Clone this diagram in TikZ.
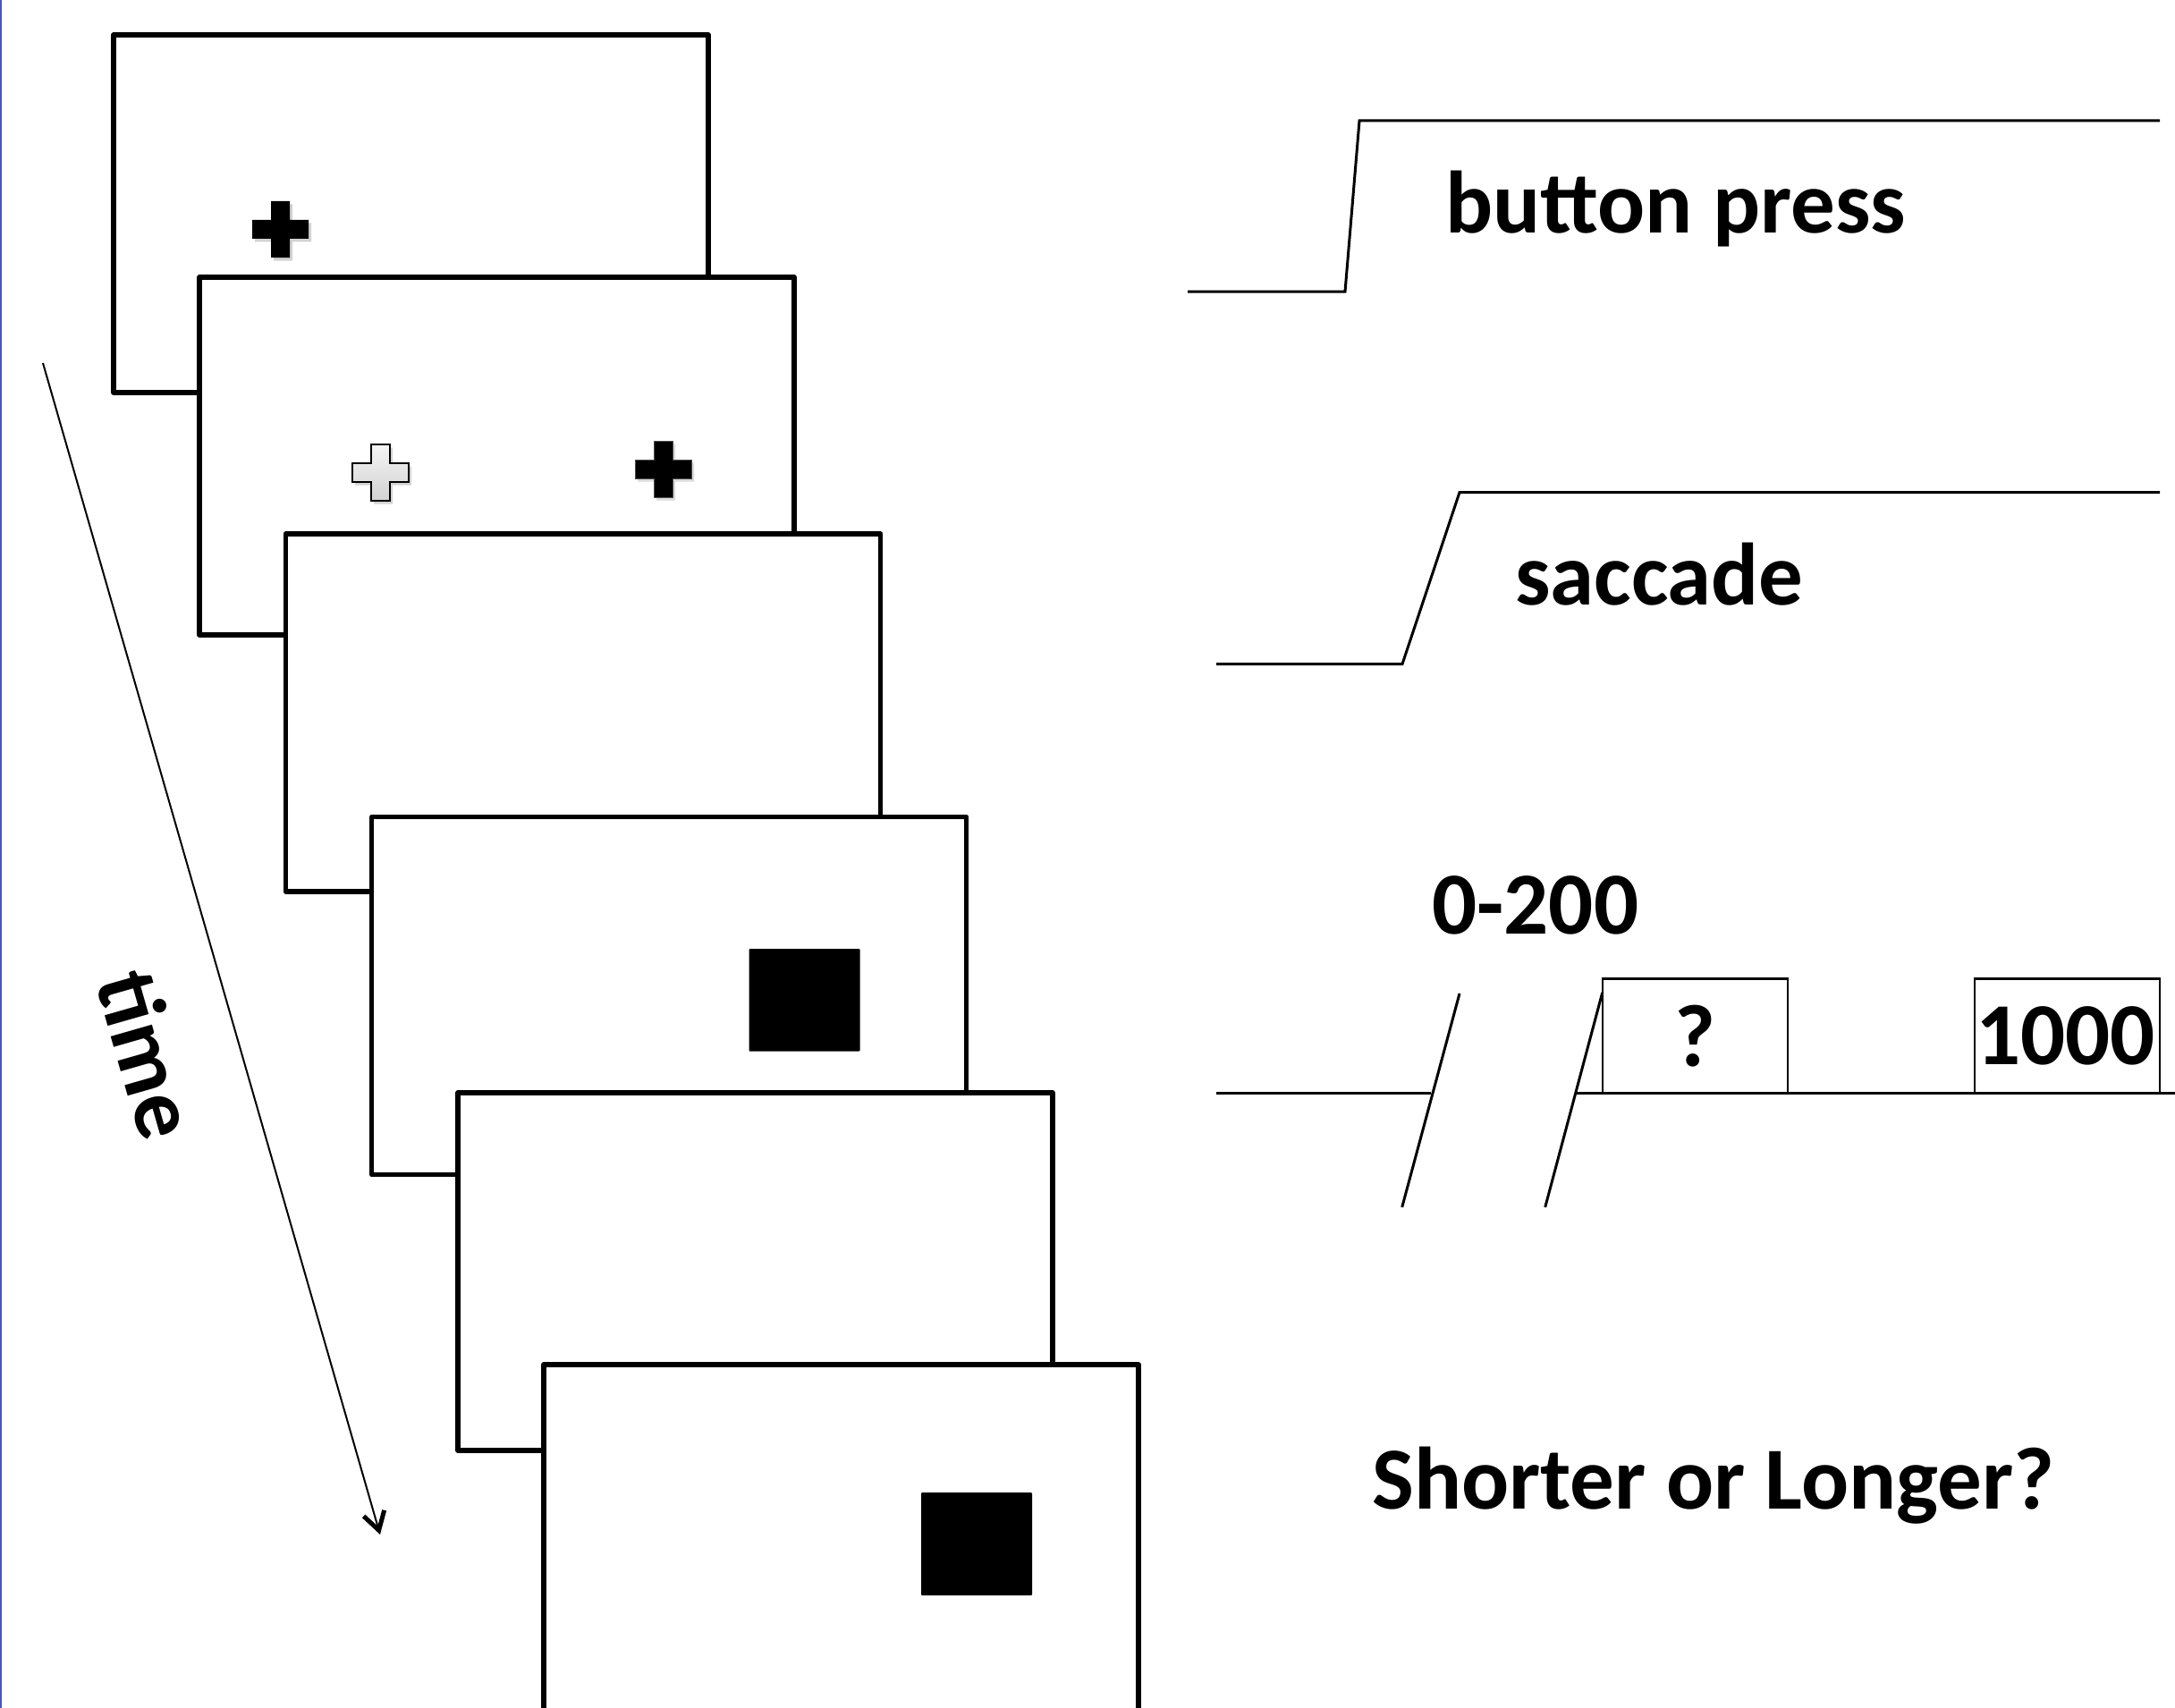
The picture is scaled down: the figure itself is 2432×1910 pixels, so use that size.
\documentclass[tikz,border=0pt]{standalone}
\usepackage{fontspec}
\setmainfont{Carlito}
\usetikzlibrary{arrows.meta}
\definecolor{edgeblue}{RGB}{70,84,196}
\tikzset{
  frame/.style={draw=black, fill=white, line width=5.5pt, line join=round, minimum width=665pt, minimum height=400pt, inner sep=0pt, outer sep=0pt, anchor=north west},
  trace/.style={line width=3pt, line join=miter},
  lbl/.style={font=\bfseries\fontsize{99}{110}\selectfont, inner sep=0pt},
  tbox/.style={draw=black, line width=2.5pt, minimum width=207pt, minimum height=128pt, inner sep=0pt, outer sep=0pt, anchor=south west},
  pics/plus/.style={code={\path[pic actions] (-10.5,-31.5) -- (10.5,-31.5) -- (10.5,-10.5) -- (31.5,-10.5) -- (31.5,10.5) -- (10.5,10.5) -- (10.5,31.5) -- (-10.5,31.5) -- (-10.5,10.5) -- (-31.5,10.5) -- (-31.5,-10.5) -- (-10.5,-10.5) -- cycle;}}
}
\begin{document}
\begin{tikzpicture}[x=1pt,y=-1pt]
\useasboundingbox (0,0) rectangle (2432,1910);
\clip (0,0) rectangle (2432,1910);
\fill[white] (0,0) rectangle (2432,1910);
\draw[edgeblue, line width=1.6pt] (0.8,0) -- (0.8,1910);
% time arrow
\coordinate (ta) at (48,406);
\coordinate (tb) at (425,1716);
\draw[line width=2pt, -{Straight Barb[length=20pt, width=24pt, line width=5pt]}] (ta) -- (tb);
\node[lbl, rotate=-74] (time) at (166,1179) {time};
% frames
\node[frame] (f1) at (127,39) {};
\pic[fill=black!35, opacity=0.5] at (316.5,260) {plus};
\pic[fill=black] at (313.5,256.5) {plus};
\node[frame] (f2) at (223,310) {};
\pic[fill=black!35, opacity=0.5] at (428.5,532) {plus};
\pic[draw=black, line width=2pt, top color=gray!8, bottom color=gray!35] at (425.5,528) {plus};
\pic[fill=black!35, opacity=0.4] at (744.5,528) {plus};
\pic[fill=black, draw=black!70, line width=0.8pt] at (742,525) {plus};
\node[frame] (f3) at (319.5,597) {};
\node[frame] (f4) at (415.7,913.5) {};
\fill[black, rounded corners=1pt] (837.5,1061) rectangle (961.6,1175.6);
\node[frame] (f5) at (512,1222) {};
\node[frame] (f6) at (608,1526) {};
\fill[black, rounded corners=1pt] (1030,1669) rectangle (1154,1784);
% button press trace
\draw[trace] (1328,326) -- (1504,326) -- (1520,135) -- (2415,135);
\node[lbl, anchor=base west] (bp) at (1616,261) {button press};
% saccade trace
\draw[trace] (1360,742.5) -- (1568,742.5) -- (1632,550.5) -- (2415,550.5);
\node[lbl, anchor=base west] (sac) at (1694,676) {saccade};
% interval timeline
\node[lbl, anchor=base west] (range) at (1601,1044) {0-200};
\draw[trace] (1360,1222.7) -- (1600,1222.7);
\draw[trace] (1761,1222.7) -- (2432,1222.7);
\draw[trace] (1567.7,1350) -- (1632,1111);
\draw[trace] (1727.7,1350) -- (1791.7,1110);
\node[tbox] (q) at (1792,1222.7) {};
\node[lbl] (qt) at (q.center) {?};
\node[tbox] (k) at (2208,1222.7) {};
\node[lbl] (kt) at ([xshift=-2pt]k.center) {1000};
\node[lbl, anchor=base west] (ask) at (1534,1687.5) {Shorter or Longer?};
\end{tikzpicture}
\end{document}
